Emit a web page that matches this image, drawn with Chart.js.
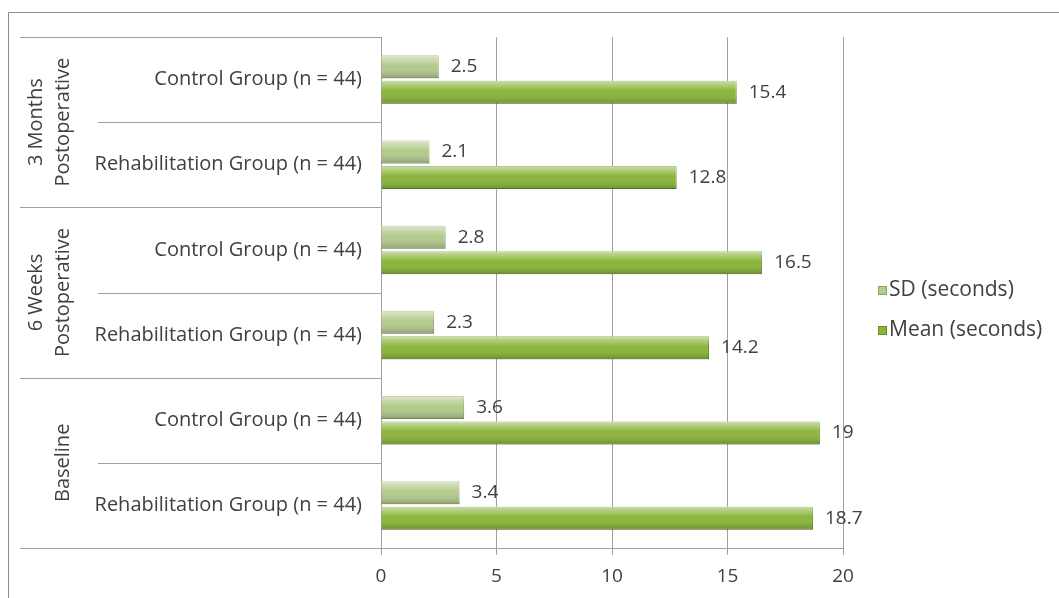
<!DOCTYPE html>
<html>
<head>
<meta charset="utf-8">
<script src="https://cdn.jsdelivr.net/npm/chart.js@4/dist/chart.umd.min.js"></script>
<style>
  html, body { margin: 0; padding: 0; background: #fff; }
  #wrap { width: 1059px; height: 598px; }
</style>
</head>
<body>
<div id="wrap"><canvas id="chart"></canvas></div>
<script>
var groupNames = [['3 Months', 'Postoperative'], ['6 Weeks', 'Postoperative'], ['Baseline']];
var categories = [
  'Control Group (n = 44)', 'Rehabilitation Group (n = 44)',
  'Control Group (n = 44)', 'Rehabilitation Group (n = 44)',
  'Control Group (n = 44)', 'Rehabilitation Group (n = 44)'
];
var sdSeconds = [2.5, 2.1, 2.8, 2.3, 3.6, 3.4];
var meanSeconds = [15.4, 12.8, 16.5, 14.2, 19, 18.7];
var xTicks = [0, 5, 10, 15, 20];

var textColor = '#404040';
var lineColor = '#a0a0a0';
var fontFamily = '"Open Sans", sans-serif';

// shading over bars, separators, group titles, value labels, legend
var decor = {
  id: 'decor',
  afterDatasetsDraw: function(chart) {
    var ctx = chart.ctx;
    ctx.save();
    chart.data.datasets.forEach(function(ds, i) {
      chart.getDatasetMeta(i).data.forEach(function(bar) {
        var top = bar.y - bar.height / 2;
        var g = ctx.createLinearGradient(0, top, 0, top + bar.height);
        g.addColorStop(0, 'rgba(255,255,255,0.55)');
        g.addColorStop(0.45, 'rgba(255,255,255,0)');
        g.addColorStop(1, 'rgba(0,0,0,0.22)');
        ctx.fillStyle = g;
        ctx.fillRect(bar.base, top, bar.x - bar.base, bar.height);
      });
    });
    ctx.restore();
  },
  afterDraw: function(chart) {
    var ctx = chart.ctx;
    var area = chart.chartArea;
    var n = categories.length;
    var step = (area.bottom - area.top) / n;
    ctx.save();

    // outer frame (top and left edges visible)
    ctx.strokeStyle = '#8c8c8c';
    ctx.lineWidth = 1;
    ctx.beginPath();
    ctx.moveTo(8.5, 598);
    ctx.lineTo(8.5, 12.5);
    ctx.lineTo(1059, 12.5);
    ctx.stroke();

    // category separators
    ctx.strokeStyle = lineColor;
    for (var k = 0; k <= n; k++) {
      var y = Math.round(area.top + k * step) + 0.5;
      ctx.beginPath();
      ctx.moveTo(k % 2 === 0 ? 20 : 98, y);
      ctx.lineTo(k === n ? area.right : area.left, y);
      ctx.stroke();
    }

    // rotated group titles
    ctx.fillStyle = textColor;
    ctx.font = '20px ' + fontFamily;
    ctx.textAlign = 'center';
    ctx.textBaseline = 'middle';
    groupNames.forEach(function(lines, g) {
      var cy = area.top + (g * 2 + 1) * step;
      lines.forEach(function(t, j) {
        var cx = 63 - (lines.length - 1 - j) * 27;
        ctx.save();
        ctx.translate(cx, cy);
        ctx.rotate(-Math.PI / 2);
        ctx.fillText(t, 0, 0);
        ctx.restore();
      });
    });

    // value labels
    ctx.font = '19px ' + fontFamily;
    ctx.textAlign = 'left';
    chart.data.datasets.forEach(function(ds, i) {
      chart.getDatasetMeta(i).data.forEach(function(bar, j) {
        ctx.fillText(String(ds.data[j]), bar.x + 12, bar.y);
      });
    });

    // legend
    ctx.font = '21px ' + fontFamily;
    var legendY = [290, 330];
    chart.data.datasets.forEach(function(ds, i) {
      var ly = legendY[i];
      ctx.fillStyle = ds.backgroundColor;
      ctx.fillRect(878, ly - 4, 9, 9);
      ctx.strokeStyle = ds.borderColor;
      ctx.strokeRect(878.5, ly - 3.5, 8, 8);
      ctx.fillStyle = textColor;
      ctx.fillText(ds.label, 889, ly);
    });
    ctx.restore();
  }
};

new Chart(document.getElementById('chart'), {
  type: 'bar',
  data: {
    labels: categories,
    datasets: [
      {
        label: 'SD (seconds)',
        data: sdSeconds,
        backgroundColor: '#b3ca8c',
        borderColor: '#8aa462',
        borderWidth: 1,
        categoryPercentage: 0.6,
        barPercentage: 0.9
      },
      {
        label: 'Mean (seconds)',
        data: meanSeconds,
        backgroundColor: '#8ab53a',
        borderColor: '#6a8e28',
        borderWidth: 1,
        categoryPercentage: 0.6,
        barPercentage: 0.9
      }
    ]
  },
  options: {
    indexAxis: 'y',
    responsive: true,
    maintainAspectRatio: false,
    animation: false,
    layout: { padding: { left: 0, right: 216, top: 37, bottom: 0 } },
    plugins: {
      legend: { display: false },
      tooltip: { enabled: false }
    },
    scales: {
      x: {
        min: 0,
        max: 20,
        afterBuildTicks: function(scale) {
          scale.ticks = xTicks.map(function(v) { return { value: v }; });
        },
        afterFit: function(scale) { scale.height = 50; },
        grid: { color: lineColor, tickLength: 7 },
        border: { color: lineColor },
        ticks: { color: textColor, padding: 10, font: { family: fontFamily, size: 19 } }
      },
      y: {
        afterFit: function(scale) { scale.width = 381; },
        grid: { display: false },
        border: { display: false },
        ticks: { color: textColor, padding: 11, font: { family: fontFamily, size: 20 } }
      }
    }
  },
  plugins: [decor]
});
</script>
</body>
</html>
